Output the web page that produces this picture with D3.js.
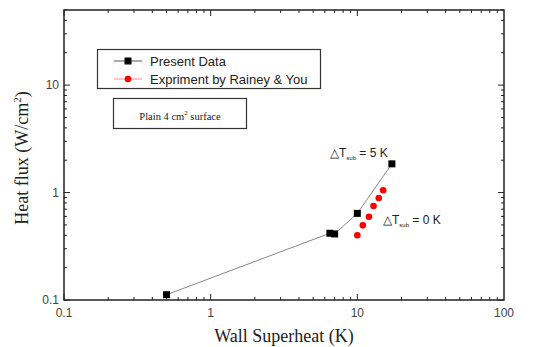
<!DOCTYPE html>
<html lang="en">
<head>
<meta charset="UTF-8">
<title>Heat flux vs wall superheat</title>
<script src="https://cdnjs.cloudflare.com/ajax/libs/d3/7.8.5/d3.min.js"></script>
<style>
    body { margin: 0; background: #fff; }
    svg { display: block; }
    .tick-label { font-family: Arial, "Liberation Sans", sans-serif; font-size: 12px; fill: #444; }
    .axis-title { font-family: "Liberation Serif", "Times New Roman", serif; font-size: 18px; fill: #222; }
    .legend-text { font-family: Arial, "Liberation Sans", sans-serif; font-size: 13px; fill: #222; }
    .note { font-family: Arial, "Liberation Sans", sans-serif; font-size: 12px; fill: #222; }
</style>
</head>
<body>
<div id="chart"></div>
<script>
    // present data (black squares)
    const presentX = [0.5, 6.5, 7.0, 10, 17.2];
    const presentY = [0.112, 0.418, 0.412, 0.64, 1.85];

    // Rainey & You (red circles)
    const raineyX = [10, 10.9, 12, 12.9, 14, 15];
    const raineyY = [0.40, 0.495, 0.595, 0.75, 0.89, 1.05];

    const xTicks = [0.1, 1, 10, 100];
    const yTicks = [0.1, 1, 10];

    const width = 543, height = 347;
    const margin = { top: 10, right: 39, bottom: 47, left: 64 };

    const svg = d3.select("#chart").append("svg")
        .attr("width", width).attr("height", height);

    const x = d3.scaleLog().domain([0.1, 100]).range([margin.left, width - margin.right]);
    const y = d3.scaleLog().domain([0.1, 50]).range([height - margin.bottom, margin.top]);

    const x0 = x.range()[0], x1 = x.range()[1];
    const y0 = y.range()[0], y1 = y.range()[1];

    // minor ticks from 2..9 in each decade
    function minors(lo, hi) {
        const out = [];
        for (let d = lo; d < hi; d *= 10)
            for (let k = 1; k < 10; k++) if (d * k <= hi) out.push(d * k);
        return out;
    }
    const xMinor = minors(0.1, 100);
    const yMinor = minors(0.1, 50);

    const axisG = svg.append("g").attr("stroke", "#222");
    // inward ticks, bottom + top
    xMinor.forEach(v => {
        const len = xTicks.includes(v) ? 6 : 3;
        axisG.append("line").attr("x1", x(v)).attr("x2", x(v)).attr("y1", y0).attr("y2", y0 - len);
        axisG.append("line").attr("x1", x(v)).attr("x2", x(v)).attr("y1", y1).attr("y2", y1 + len);
    });
    yMinor.forEach(v => {
        const len = yTicks.includes(v) ? 6 : 3;
        axisG.append("line").attr("y1", y(v)).attr("y2", y(v)).attr("x1", x0).attr("x2", x0 + len);
        axisG.append("line").attr("y1", y(v)).attr("y2", y(v)).attr("x1", x1).attr("x2", x1 - len);
    });
    svg.append("rect").attr("x", x0).attr("y", y1).attr("width", x1 - x0).attr("height", y0 - y1)
        .attr("fill", "none").attr("stroke", "#222").attr("stroke-width", 1.5);

    svg.selectAll(".xl").data(xTicks).enter().append("text")
        .attr("class", "tick-label").attr("x", d => x(d)).attr("y", y0 + 17)
        .attr("text-anchor", "middle").text(d => d3.format("~g")(d));
    svg.selectAll(".yl").data(yTicks).enter().append("text")
        .attr("class", "tick-label").attr("x", x0 - 5).attr("y", d => y(d) + 4)
        .attr("text-anchor", "end").text(d => d3.format("~g")(d));

    svg.append("text").attr("class", "axis-title")
        .attr("x", (x0 + x1) / 2).attr("y", height - 5).attr("text-anchor", "middle")
        .text("Wall Superheat (K)");
    const yt = svg.append("text").attr("class", "axis-title")
        .attr("transform", `translate(28,${(y0 + y1) / 2 + 3}) rotate(-90)`).attr("text-anchor", "middle");
    yt.append("tspan").text("Heat flux (W/cm");
    yt.append("tspan").attr("font-size", 11).attr("dy", -7).text("2");
    yt.append("tspan").attr("dy", 7).text(")");

    // data
    const present = presentX.map((v, i) => [v, presentY[i]]);
    const rainey = raineyX.map((v, i) => [v, raineyY[i]]);

    svg.append("path").datum(present)
        .attr("d", d3.line().x(d => x(d[0])).y(d => y(d[1])))
        .attr("fill", "none").attr("stroke", "#888").attr("stroke-width", 1);

    svg.selectAll(".sq").data(present).enter().append("rect")
        .attr("x", d => x(d[0]) - 3.5).attr("y", d => y(d[1]) - 3.5)
        .attr("width", 7).attr("height", 7).attr("fill", "#000");

    svg.selectAll(".dot").data(rainey).enter().append("circle")
        .attr("cx", d => x(d[0])).attr("cy", d => y(d[1])).attr("r", 3.3)
        .attr("fill", "#f00");

    // legend
    const lg = svg.append("g");
    lg.append("rect").attr("x", 97.5).attr("y", 49.5).attr("width", 223).attr("height", 39)
        .attr("fill", "#fff").attr("stroke", "#333").attr("stroke-width", 1.2);
    lg.append("line").attr("x1", 114).attr("x2", 142).attr("y1", 61).attr("y2", 61).attr("stroke", "#555");
    lg.append("rect").attr("x", 124.5).attr("y", 57.5).attr("width", 7).attr("height", 7).attr("fill", "#000");
    lg.append("text").attr("class", "legend-text").attr("x", 150).attr("y", 66).text("Present Data");
    lg.append("line").attr("x1", 114).attr("x2", 142).attr("y1", 79).attr("y2", 79).attr("stroke", "#f88");
    lg.append("circle").attr("cx", 128).attr("cy", 79).attr("r", 3.3).attr("fill", "#f00");
    lg.append("text").attr("class", "legend-text").attr("x", 150).attr("y", 84).text("Expriment by Rainey & You");

    // surface box
    svg.append("rect").attr("x", 113.5).attr("y", 98.5).attr("width", 133).attr("height", 30)
        .attr("fill", "#fff").attr("stroke", "#333").attr("stroke-width", 1.2);
    const st = svg.append("text").attr("x", 180).attr("y", 120).attr("text-anchor", "middle")
        .attr("font-family", "Liberation Serif, serif").attr("font-size", 10.5).attr("fill", "#222");
    st.append("tspan").text("Plain 4 cm");
    st.append("tspan").attr("font-size", 7).attr("dy", -5).text("2");
    st.append("tspan").attr("dy", 5).text(" surface");

    // annotations
    function note(xp, yp, val) {
        const t = svg.append("text").attr("class", "note").attr("x", xp).attr("y", yp);
        t.append("tspan").text("\u25B3T");
        t.append("tspan").attr("font-size", 6).attr("dy", 3).text("sub");
        t.append("tspan").attr("dy", -3).text(" = " + val);
    }
    note(330, 157, "5 K");
    note(383, 224, "0 K");
</script>
</body>
</html>
